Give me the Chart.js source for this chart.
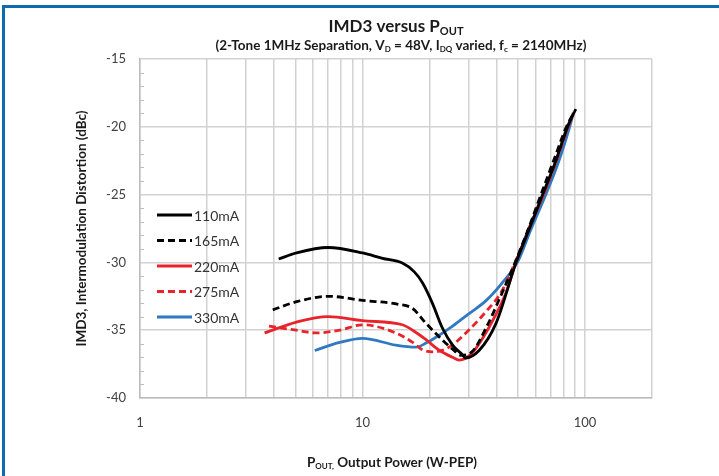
<!DOCTYPE html>
<html><head><meta charset="utf-8">
<script src="https://cdn.jsdelivr.net/npm/chart.js@4.4.1/dist/chart.umd.min.js"></script>
<style>
html,body{margin:0;padding:0;background:#fff;}
#wrap{position:relative;width:719px;height:476px;overflow:hidden;background:#fff;}
#frame{position:absolute;left:2px;top:5px;width:800px;height:600px;border-left:3px solid #0b6cb0;border-top:3px solid #0b6cb0;pointer-events:none;}
canvas{position:absolute;left:0;top:0;}
</style></head><body>
<div id="wrap"><canvas id="c" width="719" height="476"></canvas><div id="frame"></div></div>
<script>
// ---- data ----
const seriesLabels = ['110mA', '165mA', '220mA', '275mA', '330mA'];

const x110 = [4.2, 5.05, 7.0, 10, 12.3, 15.1, 17.1, 18.6, 20.6, 22.8, 25.4, 28.1, 29, 33.4, 39.8, 49, 56, 64.5, 74, 83.5, 89.5];
const y110 = [-29.75, -29.3, -28.9, -29.3, -29.7, -30.05, -30.7, -31.5, -33.0, -34.8, -36.1, -36.8, -37.05, -36.5, -34.5, -30.0, -27.6, -25.0, -22.5, -20.0, -18.9];

const x165 = [3.95, 5.05, 7.0, 10, 14.6, 16.8, 19.3, 22.8, 25.8, 27.5, 31, 36, 42, 48, 56, 63.4, 73, 82.5, 91];
const y165 = [-33.5, -32.9, -32.5, -32.8, -33.1, -33.4, -34.5, -35.7, -36.5, -36.85, -36.6, -34.8, -32.4, -30.2, -27.4, -25.0, -22.3, -20.0, -18.7];

const x220 = [3.63, 5.05, 7.0, 10, 15.1, 16.8, 19.3, 22.2, 25.4, 27.2, 31, 37, 44, 49, 56, 65, 74, 83.5, 88.5];
const y220 = [-35.2, -34.4, -34.0, -34.3, -34.6, -35.0, -35.7, -36.5, -37.0, -37.2, -36.7, -34.8, -32.3, -30.0, -27.5, -25.0, -22.5, -20.0, -19.1];

const x275 = [3.8, 5.05, 6.2, 7.9, 10, 14.1, 16.8, 18.6, 20.6, 24.5, 30, 36, 42, 48.5, 56, 65, 74, 84, 88.5];
const y275 = [-34.7, -35.0, -35.2, -35.0, -34.6, -35.2, -35.9, -36.45, -36.6, -36.25, -35.0, -33.6, -32.2, -30.0, -27.5, -25.0, -22.6, -20.0, -19.0];

const x330 = [6.1, 7.9, 10, 14.1, 17.4, 19.3, 21.5, 25.4, 30, 36, 42, 50, 57, 66.6, 76, 85, 87.5];
const y330 = [-36.5, -35.9, -35.6, -36.1, -36.25, -35.95, -35.5, -34.7, -33.8, -32.8, -31.6, -29.9, -27.6, -25.0, -22.6, -20.1, -19.35];

const xTickValues = [1, 2, 3, 4, 5, 6, 7, 8, 9, 10, 20, 30, 40, 50, 60, 70, 80, 90, 100, 200];
const xTickLabels = { 1: '1', 10: '10', 100: '100' };
const yTickLabels = { '-40': '-40', '-35': '-35', '-30': '-30', '-25': '-25', '-20': '-20', '-15': '-15' };

// ---- styles ----
const colors = ['#000000', '#000000', '#e8232b', '#e8232b', '#2f78c2'];
const dashes = [[], [7, 4], [], [7, 4], []];
const FONT = 'Lato, "Liberation Sans", sans-serif';
const GRID = '#d2d2d2';

function pts(xs, ys) { return xs.map((x, i) => ({ x: x, y: ys[i] })); }
const allX = [x110, x165, x220, x275, x330];
const allY = [y110, y165, y220, y275, y330];

const datasets = seriesLabels.map((lab, i) => ({
  label: lab,
  data: pts(allX[i], allY[i]),
  borderColor: colors[i],
  backgroundColor: colors[i],
  borderWidth: 2.8,
  borderDash: dashes[i],
  pointRadius: 0,
  fill: false,
  cubicInterpolationMode: 'monotone'
}));

function drawRich(ctx, segs, cx, cy, size, weight, color) {
  ctx.save();
  ctx.fillStyle = color;
  ctx.textBaseline = 'alphabetic';
  let total = 0;
  const parts = segs.map(s => {
    const sz = s.sub ? Math.round(size * 0.62) : size;
    ctx.font = weight + ' ' + sz + 'px ' + FONT;
    const w = ctx.measureText(s.t).width;
    total += w;
    return { t: s.t, sz: sz, w: w, sub: s.sub };
  });
  let x = cx - total / 2;
  const base = cy + size * 0.36;
  parts.forEach(p => {
    ctx.font = weight + ' ' + p.sz + 'px ' + FONT;
    ctx.fillText(p.t, x, p.sub ? base + size * 0.18 : base);
    x += p.w;
  });
  ctx.restore();
}

const decorPlugin = {
  id: 'decor',
  beforeDatasetsDraw(chart) {
    const ctx = chart.ctx, ys = chart.scales.y, a = chart.chartArea;
    ctx.save();
    ctx.strokeStyle = '#bdbdbd';
    ctx.lineWidth = 1;
    for (let v = -39; v < -15; v++) {
      if (v % 5 === 0) continue;
      const py = Math.round(ys.getPixelForValue(v)) + 0.5;
      ctx.beginPath(); ctx.moveTo(a.left, py); ctx.lineTo(a.left + 4, py); ctx.stroke();
    }
    ctx.restore();
  },
  afterDraw(chart) {
    const ctx = chart.ctx, a = chart.chartArea;
    const cx = (a.left + a.right) / 2;
    drawRich(ctx, [{ t: 'IMD3 versus P' }, { t: 'OUT', sub: true }], cx, 26, 17, 'bold', '#1a1a1a');
    drawRich(ctx, [
      { t: '(2-Tone 1MHz Separation, V' }, { t: 'D', sub: true },
      { t: ' = 48V, I' }, { t: 'DQ', sub: true },
      { t: ' varied, f' }, { t: 'c', sub: true },
      { t: ' = 2140MHz)' }], cx + 5, 45, 13.5, 'bold', '#1a1a1a');
    drawRich(ctx, [{ t: 'P' }, { t: 'OUT,', sub: true }, { t: ' Output Power (W-PEP)' }], cx - 4, 462, 13.5, 'bold', '#1a1a1a');
    ctx.save();
    ctx.translate(81, (a.top + a.bottom) / 2);
    ctx.rotate(-Math.PI / 2);
    drawRich(ctx, [{ t: 'IMD3, Intermodulation Distortion (dBc)' }], 0, 0, 13.5, 'bold', '#1a1a1a');
    ctx.restore();
    // legend inside plot
    ctx.save();
    const lx = a.left + 17, ly = a.top + 156, step = 25.5;
    chart.data.datasets.forEach((ds, i) => {
      const y = ly + i * step;
      ctx.strokeStyle = ds.borderColor;
      ctx.lineWidth = 3;
      ctx.setLineDash(ds.borderDash || []);
      ctx.beginPath(); ctx.moveTo(lx, y); ctx.lineTo(lx + 35, y); ctx.stroke();
      ctx.setLineDash([]);
      ctx.fillStyle = '#333333';
      ctx.font = '14px ' + FONT;
      ctx.textBaseline = 'middle';
      ctx.fillText(ds.label, lx + 37, y + 1);
    });
    ctx.restore();
  }
};

new Chart(document.getElementById('c'), {
  type: 'line',
  data: { datasets: datasets },
  plugins: [decorPlugin],
  options: {
    responsive: false,
    devicePixelRatio: 1,
    animation: false,
    layout: { padding: { top: 59, right: 67, left: 0, bottom: 0 } },
    plugins: { legend: { display: false }, tooltip: { enabled: false }, title: { display: false } },
    scales: {
      x: {
        type: 'logarithmic', min: 1, max: 200,
        afterBuildTicks: s => { s.ticks = xTickValues.map(v => ({ value: v })); },
        afterFit: s => { s.height = 78; },
        ticks: {
          autoSkip: false, maxRotation: 0, padding: 17,
          callback: v => xTickLabels[v] !== undefined ? xTickLabels[v] : '',
          font: { family: FONT, size: 13 }, color: '#404040'
        },
        grid: { color: GRID, lineWidth: 1.5, drawTicks: false },
        border: { color: '#bdbdbd', width: 1.5 }
      },
      y: {
        type: 'linear', min: -40, max: -15,
        afterFit: s => { s.width = 140; },
        ticks: {
          stepSize: 1, autoSkip: false, padding: 14,
          callback: v => yTickLabels[String(v)] !== undefined ? yTickLabels[String(v)] : '',
          font: { family: FONT, size: 13 }, color: '#404040'
        },
        grid: {
          color: c => (c.tick && c.tick.value % 5 === 0) ? GRID : 'rgba(0,0,0,0)',
          lineWidth: 1.5, drawTicks: false
        },
        border: { color: '#bdbdbd', width: 1.5 }
      }
    }
  }
});
</script>
</body></html>
